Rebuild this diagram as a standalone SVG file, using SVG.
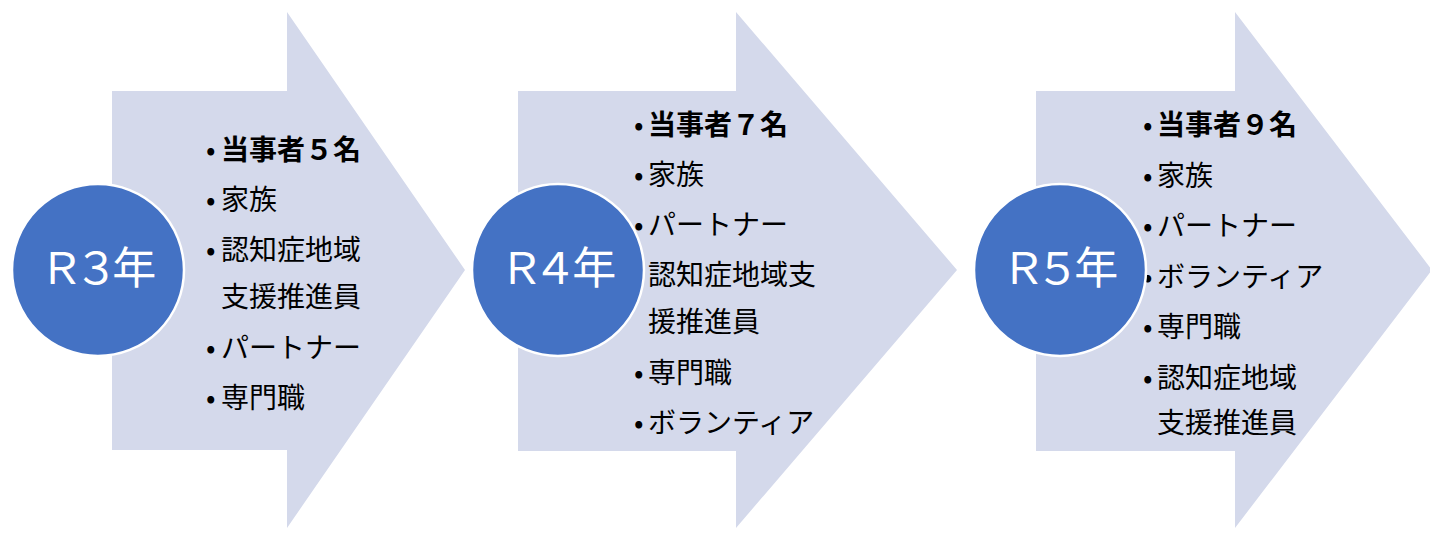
<svg xmlns="http://www.w3.org/2000/svg" width="1430" height="535" viewBox="0 0 1430 535">
<style>
.arrow{fill:#D4D9EB;}
.circ{fill:#4472C4;stroke:#FFFFFF;stroke-width:2.5;}
.lbl{font-family:"Noto Sans CJK JP",sans-serif;font-size:44px;fill:#FFFFFF;text-anchor:middle;font-feature-settings:"palt";}
.item{font-family:"Noto Sans CJK JP",sans-serif;font-size:28px;fill:#000000;}
.b{font-weight:bold;}
</style>
<rect width="1430" height="535" fill="#FFFFFF"/>
<g id="connectors"></g>
<g id="arrow1">
<polygon class="arrow" points="112,91 287,91 287,12 465,270 287,528 287,450 112,450"/>
<g class="item">
<text x="206" y="160">•</text><text x="221" y="160" class="b">当事者５名</text>
<text x="206" y="210">•</text><text x="221" y="210">家族</text>
<text x="206" y="260">•</text><text x="221" y="260">認知症地域</text>
<text x="221" y="307">支援推進員</text>
<text x="206" y="358">•</text><text x="221" y="358">パートナー</text>
<text x="206" y="408">•</text><text x="221" y="408">専門職</text>
</g>
</g>
<g id="arrow2">
<polygon class="arrow" points="518,91 736,91 736,12 957,270 736,528 736,451 518,451"/>
<g class="item">
<text x="634" y="135">•</text><text x="648" y="135" class="b">当事者７名</text>
<text x="634" y="185">•</text><text x="648" y="185">家族</text>
<text x="634" y="235">•</text><text x="648" y="235">パートナー</text>
<text x="634" y="285">•</text><text x="648" y="285">認知症地域支</text>
<text x="648" y="332">援推進員</text>
<text x="634" y="383">•</text><text x="648" y="383">専門職</text>
<text x="634" y="433">•</text><text x="648" y="433">ボランティア</text>
</g>
</g>
<g id="arrow3">
<polygon class="arrow" points="1036,91 1235,91 1235,12 1432,270 1235,528 1235,451 1036,451"/>
<g class="item">
<text x="1143" y="135">•</text><text x="1157" y="135" class="b">当事者９名</text>
<text x="1143" y="186">•</text><text x="1157" y="186">家族</text>
<text x="1143" y="236">•</text><text x="1157" y="236">パートナー</text>
<text x="1143" y="287">•</text><text x="1157" y="287">ボランティア</text>
<text x="1143" y="337">•</text><text x="1157" y="337">専門職</text>
<text x="1143" y="388">•</text><text x="1157" y="388">認知症地域</text>
<text x="1157" y="433">支援推進員</text>
</g>
</g>
<g id="circle1">
<circle class="circ" cx="98" cy="270" r="86"/>
<text class="lbl" x="100" y="284">Ｒ３年</text>
</g>
<g id="circle2">
<circle class="circ" cx="558" cy="270" r="86"/>
<text class="lbl" x="560" y="284">Ｒ４年</text>
</g>
<g id="circle3">
<circle class="circ" cx="1060" cy="270" r="86"/>
<text class="lbl" x="1062" y="284">Ｒ５年</text>
</g>
</svg>
